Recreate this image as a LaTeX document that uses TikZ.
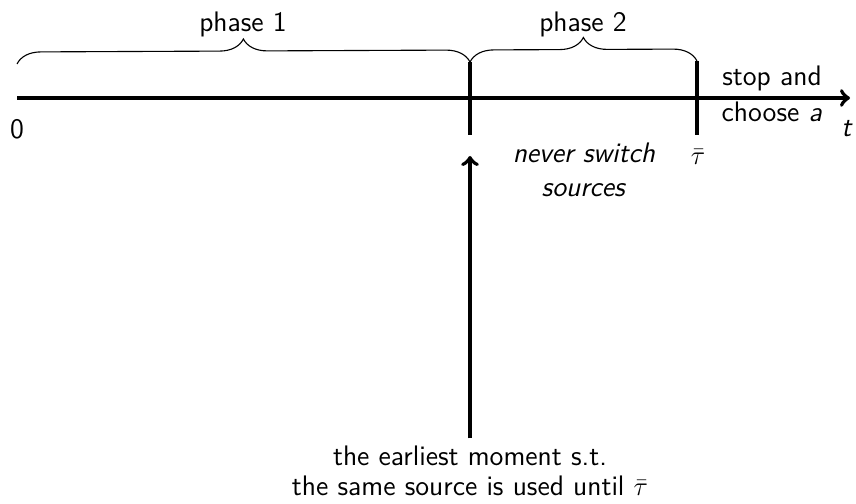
\documentclass[tikz,border=0pt]{standalone}
\usetikzlibrary{decorations.pathreplacing}
\renewcommand{\familydefault}{\sfdefault}
\begin{document}
\begin{tikzpicture}[x=0.45pt,y=-0.45pt,
  lbl/.style={font=\fontsize{12.7}{15}\selectfont\sffamily, inner sep=1pt, anchor=base},
  axisline/.style={line width=1.8pt},
  tickline/.style={line width=1.8pt},
  bracepath/.style={line width=0.5pt, decorate, decoration={brace, amplitude=10.8pt}},
  pointer/.style={line width=1.8pt, ->}]
\useasboundingbox (0,0) rectangle (856,504);

% time axis
\coordinate (start) at (17,98);
\coordinate (finish) at (850,98);
\draw[axisline, ->] (start) -- (finish);

% phase boundaries
\coordinate (s1top) at (470,62);
\coordinate (s1bot) at (470,135);
\coordinate (s2top) at (697,61);
\coordinate (s2bot) at (697,135);
\draw[tickline] (s1top) -- (s1bot);
\draw[tickline] (s2top) -- (s2bot);

% phase braces
\coordinate (b0) at (17,64);
\draw[bracepath] (b0) -- (s1top);
\draw[bracepath] (s1top) -- (s2top);

\node[lbl] (p1) at (243,32) {phase 1};
\node[lbl] (p2) at (583,32) {phase 2};

% axis labels
\node[lbl] (zero) at (17,139) {0};
\node[lbl] (tlab) at (847,137) {\textit{t}};
\node[lbl] (stop) at (772,86) {stop and};
\node[lbl] (choose) at (772,122) {choose \textit{a}};
\node[lbl] (tau) at (698,165) {$\bar\tau$};
\node[lbl] (never) at (584,163) {\textit{never switch}};
\node[lbl] (sources) at (584,197) {\textit{sources}};

% pointer to the switching moment
\node[lbl] (moment) at (470,465) {the earliest moment s.t.};
\node[lbl] (until) at (470,495) {the same source is used until $\bar\tau$};
\coordinate (ptip) at (470,156);
\draw[pointer] ([yshift=2pt]moment.north) -- (ptip);
\end{tikzpicture}
\end{document}
